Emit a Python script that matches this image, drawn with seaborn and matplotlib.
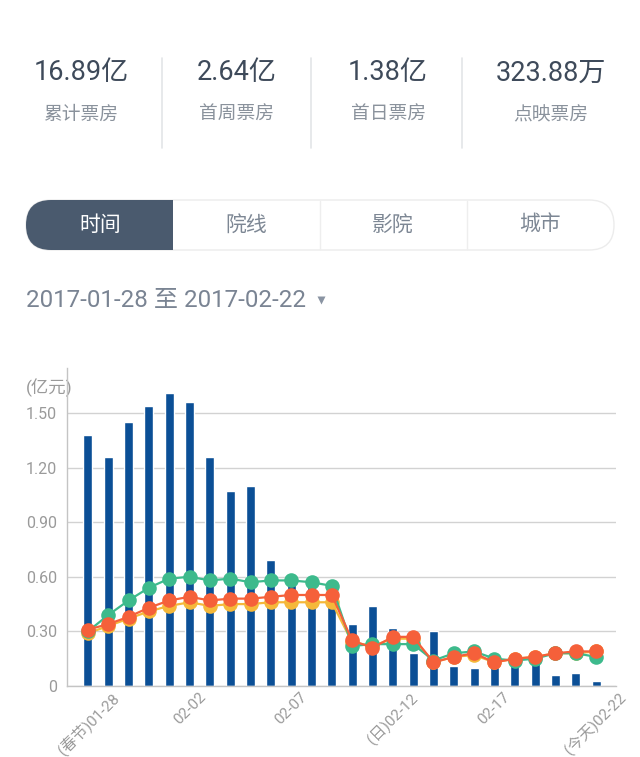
import numpy as np
import pandas as pd
import matplotlib
matplotlib.use("Agg")
import matplotlib.pyplot as plt
import seaborn as sns
from matplotlib.patches import FancyBboxPatch, Rectangle

# ---------------- data ----------------
dates = ["01-28", "01-29", "01-30", "01-31", "02-01", "02-02", "02-03", "02-04",
         "02-05", "02-06", "02-07", "02-08", "02-09", "02-10", "02-11", "02-12",
         "02-13", "02-14", "02-15", "02-16", "02-17", "02-18", "02-19", "02-20",
         "02-21", "02-22"]
box_office = [1.38, 1.26, 1.45, 1.54, 1.61, 1.56, 1.26, 1.07, 1.10, 0.69, 0.58, 0.56, 0.51,
              0.34, 0.44, 0.32, 0.18, 0.30, 0.11, 0.10, 0.12, 0.13, 0.13, 0.06, 0.07, 0.03]
series_green = [0.30, 0.39, 0.47, 0.54, 0.59, 0.60, 0.58, 0.59, 0.57, 0.58, 0.58, 0.57, 0.55,
                0.22, 0.23, 0.23, 0.23, 0.14, 0.18, 0.19, 0.15, 0.14, 0.15, 0.18, 0.18, 0.16]
series_red = [0.31, 0.34, 0.38, 0.43, 0.47, 0.49, 0.47, 0.48, 0.48, 0.49, 0.50, 0.50, 0.50,
              0.25, 0.21, 0.27, 0.27, 0.13, 0.16, 0.18, 0.13, 0.15, 0.16, 0.18, 0.19, 0.19]
series_yellow = [0.29, 0.33, 0.37, 0.41, 0.44, 0.46, 0.44, 0.45, 0.45, 0.46, 0.46, 0.46, 0.46,
                 0.24, 0.22, 0.26, 0.26, 0.13, 0.16, 0.17, 0.13, 0.15, 0.16, 0.18, 0.18, 0.19]
tick_positions = [0, 5, 10, 15, 20, 25]
tick_labels = ["(春节)01-28", "02-02", "02-07", "(日)02-12", "02-17", "(今天)02-22"]
y_ticks = [0, 0.30, 0.60, 0.90, 1.20, 1.50]
y_tick_labels = ["0", "0.30", "0.60", "0.90", "1.20", "1.50"]

stat_values = ["16.89亿", "2.64亿", "1.38亿", "323.88万"]
stat_names = ["累计票房", "首周票房", "首日票房", "点映票房"]
tabs = ["时间", "院线", "影院", "城市"]
date_range = "2017-01-28 至 2017-02-22"
unit_label = "(亿元)"

# ---------------- style ----------------
sns.set_theme(style="white")
plt.rcParams["font.family"] = ["Roboto", "Noto Sans CJK SC", "DejaVu Sans"]

W, H = 640, 757
fig = plt.figure(figsize=(W / 100, H / 100), dpi=100)
fig.patch.set_facecolor("white")

# background axes in pixel coordinates for header widgets
bg = fig.add_axes([0, 0, 1, 1], zorder=0)
bg.set_xlim(0, W)
bg.set_ylim(H, 0)
bg.axis("off")

dark = "#3e4a5a"
gray = "#8a929c"

centers = [81, 237, 388, 551]
for cx, v, n in zip(centers, stat_values, stat_names):
    bg.text(cx, 73, v, ha="center", va="center", fontsize=19.5, color=dark)
    bg.text(cx, 115, n, ha="center", va="center", fontsize=13.5, color=gray)
for sx in [162, 311, 462]:
    bg.plot([sx, sx], [58, 148], color="#e3e5e8", lw=1.2)

# tabs
cont = FancyBboxPatch((26, 200), 588, 50, boxstyle="round,pad=0,rounding_size=25",
                      facecolor="white", edgecolor="#ececec", lw=1.0)
bg.add_patch(cont)
sel = Rectangle((26, 200), 147, 50, facecolor="#4a5a6e", edgecolor="none")
bg.add_patch(sel)
sel.set_clip_path(cont)
for dx in [320, 467]:
    bg.plot([dx, dx], [201, 249], color="#eeeeee", lw=1)
tab_centers = [100, 246, 393, 540]
for i, (tx, t) in enumerate(zip(tab_centers, tabs)):
    bg.text(tx, 225, t, ha="center", va="center", fontsize=15,
            color="white" if i == 0 else "#7d8794")

# date range
bg.text(26, 301, date_range, ha="left", va="center", fontsize=17.4, color="#7a8493")
bg.plot(321, 300, marker="v", ms=6, color="#8a94a3", mec="none")

# ---------------- chart ----------------
ax = fig.add_axes([67 / W, 1 - 686 / H, (616 - 67) / W, (686 - 368) / H], zorder=1)
ax.set_facecolor("none")

sns.barplot(x=dates, y=box_office, color="#0b4f96", saturation=1, width=0.44,
            ax=ax, zorder=2)

lines_df = pd.DataFrame({
    "idx": list(range(len(dates))) * 3,
    "value": series_yellow + series_green + series_red,
    "series": ["yellow"] * len(dates) + ["green"] * len(dates) + ["red"] * len(dates),
})
palette = {"yellow": "#f5b83a", "green": "#3dba8c", "red": "#f5603a"}
for name in ["yellow", "green", "red"]:
    sub = lines_df[lines_df["series"] == name]
    sns.lineplot(data=sub, x="idx", y="value", color=palette[name], marker="o",
                 markersize=10.5, markeredgewidth=0, linewidth=1.6, ax=ax,
                 legend=False, zorder=3)

ax.set_xlim(-1.03, 25.98)
ax.set_ylim(0, 1.747)
ax.set_yticks(y_ticks)
ax.set_yticklabels(y_tick_labels)
ax.set_xticks(tick_positions)
ax.set_xticklabels(tick_labels, rotation=45, ha="center", va="top")
ax.set_xlabel("")
ax.set_ylabel("")
ax.tick_params(axis="both", length=0, labelsize=11.5, colors="#9a9a9a")
ax.tick_params(axis="x", labelsize=11, pad=3)
ax.tick_params(axis="y", pad=7)
ax.grid(axis="y", color="#d2d2d2", lw=1)
ax.set_axisbelow(True)
for s in ["top", "right"]:
    ax.spines[s].set_visible(False)
for s in ["left", "bottom"]:
    ax.spines[s].set_color("#c4c4c4")
    ax.spines[s].set_linewidth(1)

bg.text(26, 388, unit_label, ha="left", va="center", fontsize=12.5, color="#9a9a9a")

fig.savefig("out.png", dpi=100, facecolor="white")
